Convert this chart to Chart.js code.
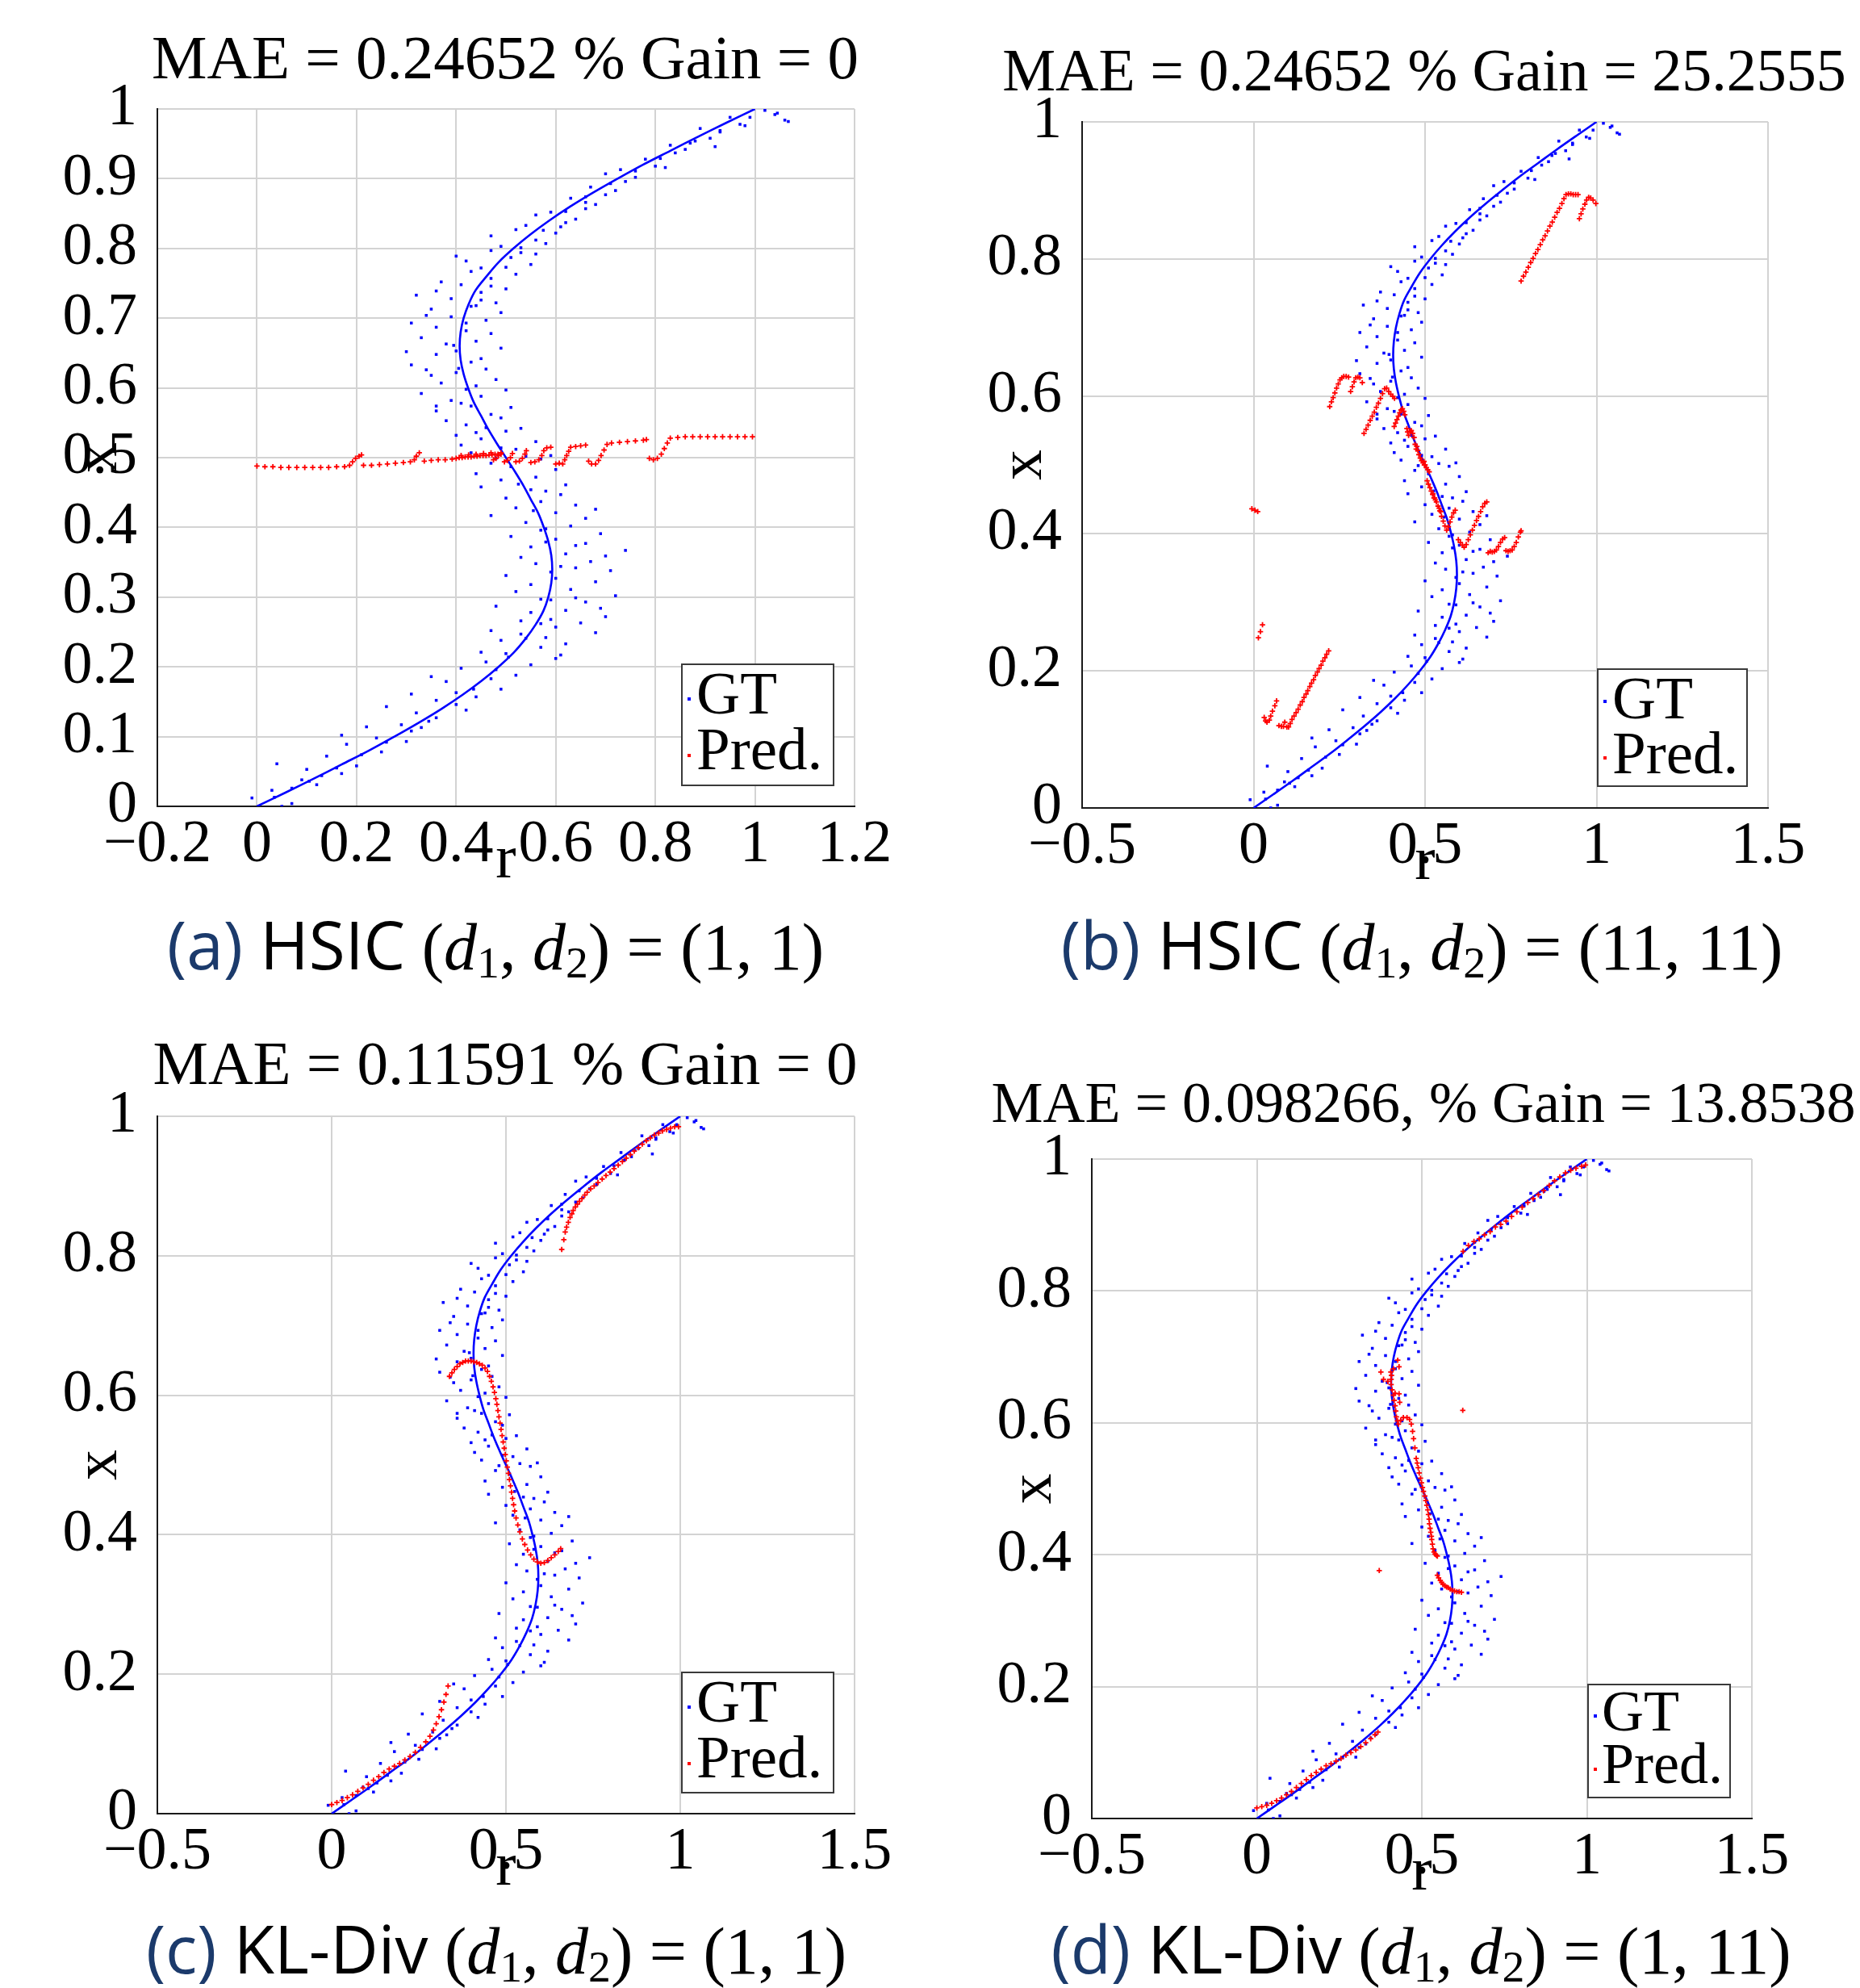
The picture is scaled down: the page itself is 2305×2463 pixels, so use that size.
<!DOCTYPE html>
<html lang="en">
<head>
  <meta charset="UTF-8">
  <title>HSIC / KL-Div predictions</title>
  <script src="https://cdn.jsdelivr.net/npm/chart.js"></script>
  <style>
    body { margin: 0; background: #fff; }
    #page { position: relative; width: 2305px; height: 2463px; overflow: hidden; font-family: 'Liberation Serif', serif; color: #000; }
    canvas { position: absolute; }
    .t { position: absolute; line-height: 1; white-space: nowrap; }
    .mid { transform: translateX(-50%); }
    .cap { font-size: 82px; }
    .sf { font-family: 'Open Sans', sans-serif; }
    .lbl { color: #1b3a6b; }
    .cap sub { font-size: 0.68em; vertical-align: -0.18em; line-height: 0; }
    .lg { position: absolute; border: 2px solid #3a3a3a; background: #fff; box-sizing: border-box; }
    .lg .t { font-size: 75px; }
    .mk { position: absolute; width: 4px; height: 4px; }
  </style>
</head>
<body>
<div id="page">
  <canvas id="pa" width="1152" height="1230" style="left:0;top:0"></canvas>
  <canvas id="pb" width="1153" height="1230" style="left:1152px;top:0"></canvas>
  <canvas id="pc" width="1152" height="1233" style="left:0;top:1230px"></canvas>
  <canvas id="pd" width="1153" height="1233" style="left:1152px;top:1230px"></canvas>

  <div class="t mid" style="left:626px;top:33px;font-size:77px">MAE = 0.24652 % Gain = 0</div>
  <div class="t mid" style="left:1765px;top:50px;font-size:74px">MAE = 0.24652 % Gain = 25.2555</div>
  <div class="t mid" style="left:626px;top:1279px;font-size:77px">MAE = 0.11591 % Gain = 0</div>
  <div class="t mid" style="left:1764px;top:1330px;font-size:72px">MAE = 0.098266, % Gain = 13.8538</div>

  <div class="lg" style="left:844px;top:822px;width:190px;height:152px">
    <div class="mk" style="left:6px;top:40px;background:#00f"></div>
    <div class="t" style="left:17px;top:-3px">GT</div>
    <div class="mk" style="left:6px;top:110px;background:#f00"></div>
    <div class="t" style="left:17px;top:66px">Pred.</div>
  </div>
  <div class="lg" style="left:1979px;top:828px;width:187px;height:147px">
    <div class="mk" style="left:6px;top:37px;background:#00f"></div>
    <div class="t" style="left:17px;top:-3px">GT</div>
    <div class="mk" style="left:6px;top:107px;background:#f00"></div>
    <div class="t" style="left:17px;top:65px">Pred.</div>
  </div>
  <div class="lg" style="left:844px;top:2071px;width:190px;height:151px">
    <div class="mk" style="left:6px;top:40px;background:#00f"></div>
    <div class="t" style="left:17px;top:-3px">GT</div>
    <div class="mk" style="left:6px;top:110px;background:#f00"></div>
    <div class="t" style="left:17px;top:66px">Pred.</div>
  </div>
  <div class="lg" style="left:1967px;top:2086px;width:178px;height:142px">
    <div class="mk" style="left:6px;top:36px;background:#00f"></div>
    <div class="t" style="left:16px;top:-4px;font-size:72px">GT</div>
    <div class="mk" style="left:6px;top:102px;background:#f00"></div>
    <div class="t" style="left:16px;top:61px;font-size:72px">Pred.</div>
  </div>

  <div class="t mid cap" style="left:614px;top:1128px"><span class="sf"><span class="lbl">(a)</span> HSIC</span> (<i>d</i><sub>1</sub>, <i>d</i><sub>2</sub>) = (1, 1)</div>
  <div class="t mid cap" style="left:1762px;top:1128px"><span class="sf"><span class="lbl">(b)</span> HSIC</span> (<i>d</i><sub>1</sub>, <i>d</i><sub>2</sub>) = (11, 11)</div>
  <div class="t mid cap" style="left:615px;top:2372px"><span class="sf"><span class="lbl">(c)</span> KL-Div</span> (<i>d</i><sub>1</sub>, <i>d</i><sub>2</sub>) = (1, 1)</div>
  <div class="t mid cap" style="left:1761px;top:2372px"><span class="sf"><span class="lbl">(d)</span> KL-Div</span> (<i>d</i><sub>1</sub>, <i>d</i><sub>2</sub>) = (1, 11)</div>
</div>

<script>
// ground truth curve (vertical value x, horizontal value r)
const gtCurveX = [0, 0.02, 0.04, 0.06, 0.08, 0.10, 0.12, 0.14, 0.16, 0.18, 0.20, 0.22, 0.24, 0.26, 0.28, 0.30,
  0.32, 0.34, 0.36, 0.38, 0.40, 0.42, 0.44, 0.46, 0.48, 0.50, 0.52, 0.54, 0.56, 0.58, 0.60, 0.62, 0.64, 0.66,
  0.68, 0.70, 0.72, 0.74, 0.76, 0.78, 0.80, 0.82, 0.84, 0.86, 0.88, 0.90, 0.92, 0.94, 0.96, 0.98, 1.00];
const gtCurveR = [0, 0.058, 0.115, 0.170, 0.225, 0.276, 0.325, 0.371, 0.413, 0.451, 0.485, 0.515, 0.539, 0.559, 0.575, 0.585,
  0.591, 0.593, 0.591, 0.585, 0.576, 0.565, 0.550, 0.535, 0.518, 0.500, 0.482, 0.465, 0.450, 0.435, 0.424, 0.415, 0.409, 0.407,
  0.409, 0.415, 0.425, 0.439, 0.461, 0.485, 0.515, 0.549, 0.587, 0.629, 0.675, 0.724, 0.775, 0.830, 0.885, 0.942, 1.000];

// noisy ground truth samples [r, x]
const gtCloud = [[-0.01,0.012],[0.07,0.004],[0.03,0.023],[0.12,0.031],[0.09,0.038],[0.17,0.047],[0.10,0.053],[0.20,0.058],
  [0.14,0.072],[0.25,0.078],[0.18,0.089],[0.30,0.093],[0.24,0.098],[0.33,0.113],[0.29,0.117],[0.36,0.127],[0.32,0.134],
  [0.42,0.138],[0.36,0.152],[0.44,0.157],[0.40,0.163],[0.49,0.168],[0.38,0.179],[0.47,0.183],[0.52,0.188],[0.41,0.198],
  [0.55,0.203],[0.46,0.207],[0.60,0.212],[0.50,0.219],[0.45,0.221],[0.57,0.228],[0.62,0.233],[0.49,0.238],[0.58,0.242],
  [0.68,0.249],[0.47,0.252],[0.60,0.257],[0.65,0.263],[0.53,0.266],[0.70,0.272],[0.55,0.278],[0.62,0.281],[0.48,0.287],
  [0.66,0.293],[0.57,0.297],[0.72,0.302],[0.52,0.308],[0.63,0.311],[0.55,0.318],[0.68,0.322],[0.60,0.327],[0.50,0.331],
  [0.71,0.338],[0.64,0.342],[0.56,0.348],[0.67,0.351],[0.53,0.357],[0.62,0.362],[0.74,0.367],[0.55,0.372],[0.66,0.377],
  [0.60,0.383],[0.51,0.387],[0.69,0.391],[0.58,0.398],[0.63,0.402],[0.54,0.407],[0.66,0.413],[0.47,0.417],[0.60,0.421],
  [0.52,0.428],[0.64,0.432],[0.57,0.437],[0.50,0.442],[0.61,0.447],[0.58,0.452],[0.45,0.458],[0.62,0.461],[0.49,0.468],
  [0.56,0.472],[0.44,0.477],[0.60,0.483],[0.51,0.487],[0.47,0.492],[0.57,0.498],[0.54,0.502],[0.43,0.507],[0.52,0.512],
  [0.41,0.518],[0.56,0.523],[0.45,0.527],[0.40,0.532],[0.50,0.538],[0.53,0.542],[0.42,0.547],[0.38,0.553],[0.49,0.557],
  [0.47,0.562],[0.36,0.567],[0.51,0.572],[0.41,0.578],[0.39,0.582],[0.45,0.588],[0.33,0.592],[0.50,0.597],[0.44,0.603],
  [0.37,0.607],[0.48,0.612],[0.35,0.618],[0.40,0.622],[0.46,0.627],[0.31,0.633],[0.43,0.637],[0.45,0.642],[0.36,0.648],
  [0.30,0.652],[0.49,0.657],[0.38,0.663],[0.44,0.667],[0.33,0.672],[0.47,0.678],[0.42,0.682],[0.36,0.687],[0.31,0.693],
  [0.46,0.697],[0.39,0.702],[0.49,0.708],[0.35,0.713],[0.43,0.717],[0.48,0.722],[0.39,0.728],[0.32,0.733],[0.45,0.737],
  [0.50,0.742],[0.41,0.748],[0.37,0.752],[0.47,0.757],[0.52,0.763],[0.43,0.767],[0.45,0.772],[0.55,0.777],[0.42,0.782],
  [0.51,0.787],[0.56,0.792],[0.47,0.797],[0.49,0.803],[0.58,0.807],[0.56,0.812],[0.47,0.818],[0.60,0.822],[0.52,0.827],
  [0.54,0.833],[0.62,0.837],[0.64,0.842],[0.56,0.848],[0.59,0.852],[0.66,0.857],[0.68,0.863],[0.63,0.872],[0.70,0.877],
  [0.72,0.883],[0.67,0.888],[0.76,0.902],[0.70,0.907],[0.73,0.913],[0.80,0.918],[0.78,0.928],[0.84,0.937],[0.86,0.942],
  [0.83,0.948],[0.91,0.958],[0.93,0.967],[0.89,0.972],[0.97,0.978],[1.04,0.992],[0.95,0.988],[1.06,0.984],[1.02,0.998],
  [1.045,0.994],[1.067,0.982],[0.61,0.217],[0.53,0.247],[0.59,0.268],[0.69,0.284],[0.64,0.299],[0.59,0.336],[0.70,0.359],
  [0.64,0.374],[0.57,0.396],[0.68,0.426],[0.55,0.454],[0.59,0.503],[0.48,0.499],[0.44,0.536],[0.36,0.574],[0.42,0.598],
  [0.34,0.626],[0.40,0.653],[0.34,0.704],[0.45,0.726],[0.36,0.739],[0.40,0.789],[0.53,0.801],[0.61,0.831],[0.66,0.866],
  [0.74,0.896],[0.82,0.916],[0.88,0.954],[0.17,0.102],[0.26,0.143],[0.22,0.114],[0.07,0.026],[0.04,0.061],[0.13,0.044],
  [0.31,0.161],[0.35,0.186],[0.98,0.976],[0.92,0.946],[0.05,0.0],
  [0.035,0.013],[0.105,0.036],[0.16,0.055],[0.21,0.074],[0.26,0.092],[0.31,0.108],[0.345,0.122],[0.40,0.146],[0.435,0.168],
  [0.48,0.196],[0.505,0.214],[0.54,0.241],[0.57,0.262],[0.59,0.296],[0.61,0.344],[0.58,0.379],[0.555,0.424],[0.525,0.462],
  [0.49,0.514],[0.46,0.543],[0.43,0.574],[0.405,0.628],[0.395,0.661],[0.42,0.693],[0.44,0.718],[0.47,0.746],[0.50,0.773],
  [0.53,0.794],[0.575,0.826],[0.62,0.853],[0.66,0.874],[0.71,0.893],[0.76,0.911],[0.81,0.929],[0.87,0.951],[0.93,0.969],
  [0.99,0.988]];

// predictions [r, x]
const predA = [[0.000,0.488],[0.016,0.487],[0.032,0.487],[0.048,0.486],[0.064,0.486],[0.080,0.486],[0.096,0.486],[0.112,0.486],
  [0.128,0.486],[0.144,0.486],[0.160,0.487],[0.176,0.487],[0.186,0.489],[0.192,0.494],[0.198,0.499],[0.205,0.502],[0.210,0.504],
  [0.214,0.489],[0.230,0.489],[0.246,0.490],[0.262,0.491],[0.278,0.492],[0.294,0.493],[0.308,0.494],[0.316,0.497],[0.320,0.502],
  [0.326,0.507],[0.336,0.495],[0.350,0.496],[0.364,0.497],[0.378,0.497],[0.392,0.498],[0.400,0.499],[0.406,0.500],[0.412,0.500],
  [0.418,0.501],[0.424,0.501],[0.430,0.501],[0.436,0.502],[0.442,0.502],[0.448,0.503],[0.454,0.503],[0.460,0.503],[0.466,0.504],
  [0.472,0.504],[0.478,0.505],[0.484,0.505],[0.490,0.505],[0.410,0.503],[0.425,0.504],[0.440,0.505],[0.455,0.506],[0.470,0.507],
  [0.475,0.497],[0.480,0.499],[0.485,0.503],[0.490,0.507],[0.497,0.494],[0.503,0.496],[0.509,0.500],[0.513,0.506],
  [0.520,0.494],[0.527,0.495],[0.533,0.499],[0.538,0.505],[0.541,0.510],[0.550,0.493],[0.558,0.494],[0.566,0.497],[0.572,0.503],
  [0.576,0.510],[0.582,0.514],[0.590,0.515],[0.600,0.491],[0.607,0.492],[0.614,0.491],[0.618,0.497],[0.622,0.503],[0.626,0.509],
  [0.630,0.515],[0.640,0.516],[0.650,0.517],[0.660,0.518],[0.666,0.495],[0.672,0.491],[0.680,0.491],[0.686,0.496],[0.691,0.503],
  [0.697,0.511],[0.703,0.519],[0.712,0.521],[0.728,0.522],[0.744,0.523],[0.760,0.524],[0.776,0.525],[0.782,0.526],[0.788,0.499],
  [0.796,0.497],[0.804,0.499],[0.812,0.505],[0.818,0.513],[0.824,0.521],[0.830,0.528],[0.845,0.529],[0.860,0.530],[0.875,0.530],
  [0.890,0.530],[0.905,0.530],[0.920,0.530],[0.935,0.530],[0.950,0.530],[0.965,0.530],[0.980,0.530],[0.995,0.530]];

const predB = [[0.780,0.768],[0.787,0.775],[0.794,0.781],[0.801,0.788],[0.808,0.795],[0.815,0.801],[0.822,0.808],[0.829,0.814],
  [0.836,0.821],[0.843,0.828],[0.850,0.834],[0.857,0.841],[0.864,0.848],[0.871,0.854],[0.878,0.861],[0.885,0.868],[0.892,0.874],
  [0.899,0.881],[0.905,0.888],[0.911,0.894],[0.918,0.895],[0.925,0.895],[0.932,0.894],[0.939,0.894],[0.946,0.894],
  [0.950,0.859],[0.955,0.866],[0.960,0.873],[0.966,0.880],[0.971,0.886],[0.977,0.890],[0.983,0.889],[0.990,0.886],[0.998,0.881],
  [0.222,0.585],[0.227,0.592],[0.232,0.598],[0.237,0.605],[0.242,0.612],[0.247,0.618],[0.252,0.624],[0.257,0.627],[0.263,0.629],
  [0.270,0.629],[0.277,0.628],[0.283,0.607],[0.288,0.614],[0.293,0.621],[0.298,0.627],[0.304,0.628],[0.310,0.627],[0.317,0.620],
  [0.322,0.546],[0.328,0.552],[0.334,0.558],[0.340,0.565],[0.346,0.571],[0.352,0.577],[0.358,0.584],[0.364,0.590],[0.370,0.597],
  [0.376,0.604],[0.382,0.611],[0.388,0.612],[0.394,0.607],[0.400,0.603],[0.406,0.600],[0.411,0.597],
  [0.410,0.556],[0.414,0.561],[0.418,0.566],[0.422,0.571],[0.426,0.576],[0.430,0.580],[0.434,0.582],[0.438,0.578],[0.441,0.573],
  [0.447,0.553],[0.449,0.548],[0.452,0.543],[0.456,0.549],[0.460,0.550],[0.464,0.546],[0.468,0.540],[0.471,0.530],[0.474,0.523],
  [0.476,0.527],[0.479,0.521],[0.482,0.515],[0.486,0.510],[0.490,0.506],[0.494,0.503],[0.498,0.500],
  [0.497,0.505],[0.500,0.500],[0.504,0.496],[0.508,0.493],[0.512,0.490],
  [0.506,0.477],[0.510,0.472],[0.514,0.467],[0.518,0.462],[0.522,0.457],[0.526,0.452],[0.530,0.449],
  [0.523,0.458],[0.528,0.452],[0.533,0.446],[0.538,0.440],[0.543,0.433],[0.548,0.425],[0.553,0.418],[0.558,0.411],[0.563,0.405],
  [0.568,0.410],[0.573,0.417],[0.578,0.424],[0.583,0.430],[0.588,0.434],[0.541,0.437],[0.546,0.432],
  [0.597,0.391],[0.603,0.387],[0.609,0.383],[0.614,0.380],[0.620,0.384],[0.626,0.391],[0.632,0.398],[0.638,0.405],[0.644,0.412],
  [0.650,0.419],[0.656,0.425],[0.662,0.432],[0.668,0.439],[0.674,0.444],[0.680,0.446],
  [0.684,0.372],[0.690,0.374],[0.696,0.373],[0.702,0.374],[0.708,0.376],[0.714,0.381],[0.720,0.387],[0.726,0.392],[0.732,0.394],
  [0.736,0.375],[0.742,0.374],[0.748,0.375],[0.754,0.376],[0.760,0.381],[0.766,0.387],[0.772,0.395],[0.778,0.402],[0.780,0.404],
  [-0.005,0.436],[0.004,0.434],[0.012,0.432],[0.014,0.248],[0.020,0.257],[0.026,0.267],
  [0.031,0.132],[0.035,0.127],[0.039,0.125],[0.046,0.128],[0.050,0.134],[0.055,0.141],[0.062,0.149],[0.067,0.156],
  [0.074,0.120],[0.081,0.119],[0.087,0.119],[0.091,0.125],[0.097,0.118],[0.102,0.118],
  [0.107,0.123],[0.112,0.129],[0.118,0.134],[0.124,0.139],[0.130,0.144],[0.136,0.150],[0.142,0.155],[0.147,0.161],[0.153,0.166],
  [0.158,0.171],[0.164,0.177],[0.169,0.182],[0.175,0.187],[0.180,0.193],[0.186,0.198],[0.191,0.203],[0.197,0.208],[0.202,0.214],
  [0.208,0.219],[0.213,0.224],[0.219,0.229]];

const predC = [[0.000,0.013],[0.015,0.016],[0.030,0.019],[0.045,0.023],[0.060,0.027],[0.075,0.032],[0.090,0.037],[0.105,0.042],
  [0.120,0.048],[0.135,0.053],[0.150,0.059],[0.165,0.064],[0.180,0.068],[0.195,0.072],[0.210,0.077],[0.225,0.082],[0.240,0.088],
  [0.255,0.095],[0.270,0.103],[0.282,0.111],[0.292,0.120],[0.300,0.129],[0.308,0.139],[0.315,0.149],[0.322,0.160],[0.328,0.171],
  [0.334,0.183],
  [0.338,0.627],[0.345,0.632],[0.352,0.637],[0.360,0.641],[0.368,0.645],[0.376,0.647],[0.384,0.649],[0.392,0.649],[0.400,0.649],
  [0.408,0.648],[0.416,0.647],[0.424,0.645],[0.432,0.643],[0.440,0.639],[0.447,0.634],[0.453,0.627],[0.458,0.620],[0.463,0.612],
  [0.467,0.604],[0.471,0.595],[0.474,0.587],[0.477,0.578],[0.480,0.569],[0.483,0.560],[0.486,0.551],[0.489,0.542],[0.492,0.533],
  [0.495,0.524],[0.498,0.515],[0.501,0.506],[0.504,0.497],[0.507,0.488],[0.510,0.479],[0.513,0.470],[0.516,0.461],[0.519,0.452],
  [0.522,0.443],[0.525,0.434],[0.529,0.424],[0.534,0.414],[0.540,0.404],[0.547,0.394],[0.554,0.386],[0.562,0.378],[0.571,0.371],
  [0.580,0.365],[0.590,0.361],[0.600,0.359],[0.610,0.360],[0.620,0.363],[0.630,0.367],[0.640,0.371],[0.650,0.376],[0.657,0.380],
  [0.660,0.809],[0.666,0.823],[0.670,0.834],[0.674,0.841],[0.679,0.848],[0.684,0.855],[0.689,0.860],[0.693,0.865],[0.699,0.870],
  [0.705,0.874],[0.711,0.878],[0.718,0.882],[0.726,0.887],[0.733,0.891],[0.743,0.896],[0.753,0.900],[0.764,0.905],[0.776,0.910],
  [0.787,0.915],[0.799,0.920],[0.810,0.925],[0.822,0.930],[0.834,0.935],[0.845,0.940],[0.857,0.945],[0.868,0.950],[0.880,0.955],
  [0.891,0.960],[0.903,0.965],[0.914,0.969],[0.926,0.973],[0.938,0.976],[0.949,0.979],[0.961,0.981],[0.972,0.983],[0.984,0.985],
  [0.995,0.985]];

const predD = [[0.000,0.016],[0.015,0.018],[0.030,0.020],[0.045,0.023],[0.060,0.027],[0.075,0.031],[0.090,0.036],[0.105,0.041],
  [0.120,0.047],[0.135,0.053],[0.150,0.059],[0.165,0.065],[0.180,0.070],[0.195,0.075],[0.210,0.080],[0.225,0.083],[0.240,0.087],
  [0.255,0.091],[0.270,0.096],[0.285,0.100],[0.300,0.104],[0.315,0.109],[0.330,0.115],[0.345,0.121],[0.358,0.127],[0.367,0.131],
  [0.376,0.677],[0.384,0.666],[0.397,0.663],[0.408,0.672],[0.414,0.682],[0.427,0.695],[0.431,0.685],[0.406,0.677],
  [0.407,0.666],[0.407,0.658],[0.410,0.650],[0.414,0.642],[0.416,0.634],[0.419,0.626],[0.421,0.618],[0.423,0.609],[0.426,0.603],
  [0.429,0.598],[0.419,0.645],[0.431,0.644],[0.433,0.631],
  [0.436,0.604],[0.444,0.608],[0.455,0.608],[0.463,0.605],[0.468,0.598],[0.472,0.587],[0.475,0.576],[0.479,0.562],[0.483,0.546],
  [0.486,0.539],[0.489,0.532],[0.492,0.524],[0.496,0.516],[0.499,0.509],[0.502,0.502],[0.505,0.496],[0.509,0.489],[0.512,0.482],
  [0.515,0.475],[0.518,0.468],[0.520,0.461],[0.522,0.454],[0.523,0.447],[0.525,0.440],[0.527,0.434],[0.529,0.428],[0.530,0.423],
  [0.532,0.416],[0.534,0.409],[0.537,0.404],[0.540,0.401],[0.544,0.399],[0.547,0.398],
  [0.547,0.369],[0.551,0.365],[0.556,0.361],[0.560,0.358],[0.564,0.355],[0.570,0.353],[0.575,0.351],[0.580,0.350],[0.586,0.348],
  [0.592,0.346],[0.599,0.345],[0.606,0.344],[0.613,0.344],[0.620,0.343],
  [0.624,0.619],[0.371,0.376],
  [0.625,0.860],[0.641,0.869],[0.658,0.875],[0.674,0.879],[0.690,0.885],[0.707,0.890],[0.723,0.897],[0.739,0.901],[0.755,0.906],
  [0.772,0.913],[0.788,0.920],[0.804,0.927],[0.821,0.934],[0.837,0.940],[0.853,0.946],[0.869,0.952],[0.886,0.960],[0.902,0.967],
  [0.918,0.973],[0.935,0.979],[0.951,0.983],[0.967,0.986],[0.984,0.989],[0.996,0.991]];

// tick values and labels
const xTicksA = [-0.2, 0, 0.2, 0.4, 0.6, 0.8, 1, 1.2];
const xLabelsA = ['\u22120.2', '0', '0.2', '0.4', '0.6', '0.8', '1', '1.2'];
const xTicksB = [-0.5, 0, 0.5, 1, 1.5];
const xLabelsB = ['\u22120.5', '0', '0.5', '1', '1.5'];
const yTicksA = [0, 0.1, 0.2, 0.3, 0.4, 0.5, 0.6, 0.7, 0.8, 0.9, 1];
const yLabelsA = ['0', '0.1', '0.2', '0.3', '0.4', '0.5', '0.6', '0.7', '0.8', '0.9', '1'];
const yTicksB = [0, 0.2, 0.4, 0.6, 0.8, 1];
const yLabelsB = ['0', '0.2', '0.4', '0.6', '0.8', '1'];

const YW = 150, XH = 120;
const tickFont = { family: 'Liberation Serif', size: 74 };

// axis names drawn over the tick column like the original
const axisNames = {
  id: 'axisNames',
  afterDraw(chart) {
    const { ctx, chartArea: a } = chart;
    ctx.save();
    ctx.fillStyle = '#000';
    ctx.font = '76px "Liberation Serif"';
    ctx.textAlign = 'center';
    ctx.textBaseline = 'alphabetic';
    ctx.fillText('r', (a.left + a.right) / 2, a.bottom + 88);
    ctx.translate(a.left - 71, (a.top + a.bottom) / 2);
    ctx.rotate(-Math.PI / 2);
    ctx.textBaseline = 'middle';
    ctx.fillText('x', 0, 0);
    ctx.restore();
  }
};

function pts(pairs) {
  return pairs.map(p => ({ x: p[0], y: p[1] }));
}

function makePanel(p) {
  const cv = document.getElementById(p.id);
  const [cl, ct] = p.canvasAt;
  const [L, T, R, B] = p.area;
  new Chart(cv, {
    type: 'scatter',
    data: {
      datasets: [
        { data: pts(p.pred), pointStyle: 'cross', pointRadius: 3.3, borderColor: '#ff0000', borderWidth: 1.8, order: 0 },
        { data: gtCurveR.map((r, i) => ({ x: r, y: gtCurveX[i] })), showLine: true, pointRadius: 0,
          borderColor: '#0000ff', borderWidth: 2.6, tension: 0.35, order: 1 },
        { data: pts(gtCloud), pointStyle: 'rect', pointRadius: 2.5, backgroundColor: '#0000ff', borderWidth: 0, order: 2 }
      ]
    },
    options: {
      responsive: false,
      animation: false,
      events: [],
      layout: { padding: { left: L - cl - YW, top: T - ct, right: cl + cv.width - R, bottom: ct + cv.height - B - XH } },
      plugins: { legend: { display: false }, tooltip: { enabled: false } },
      scales: {
        x: {
          type: 'linear', min: p.xTicks[0], max: p.xTicks[p.xTicks.length - 1],
          afterBuildTicks: s => { s.ticks = p.xTicks.map(v => ({ value: v })); },
          afterFit: s => { s.height = XH; },
          ticks: { callback: (v, i) => p.xLabels[i], font: tickFont, color: '#000', padding: 4, maxRotation: 0, autoSkip: false },
          grid: { color: '#d3d3d3', lineWidth: 2, drawTicks: false },
          border: { color: '#1a1a1a', width: 2 }
        },
        y: {
          type: 'linear', min: 0, max: 1,
          afterBuildTicks: s => { s.ticks = p.yTicks.map(v => ({ value: v })); },
          afterFit: s => { s.width = YW; },
          ticks: { callback: (v, i) => p.yLabels[i], font: tickFont, color: '#000', padding: 25, autoSkip: false },
          grid: { color: '#d3d3d3', lineWidth: 2, drawTicks: false },
          border: { color: '#1a1a1a', width: 2 }
        }
      }
    },
    plugins: [axisNames]
  });
}

makePanel({ id: 'pa', canvasAt: [0, 0], area: [195, 135, 1059, 999], xTicks: xTicksA, xLabels: xLabelsA, yTicks: yTicksA, yLabels: yLabelsA, pred: predA });
makePanel({ id: 'pb', canvasAt: [1152, 0], area: [1341, 151, 2191, 1001], xTicks: xTicksB, xLabels: xLabelsB, yTicks: yTicksB, yLabels: yLabelsB, pred: predB });
makePanel({ id: 'pc', canvasAt: [0, 1230], area: [195, 1383, 1059, 2247], xTicks: xTicksB, xLabels: xLabelsB, yTicks: yTicksB, yLabels: yLabelsB, pred: predC });
makePanel({ id: 'pd', canvasAt: [1152, 1230], area: [1353, 1436, 2171, 2253], xTicks: xTicksB, xLabels: xLabelsB, yTicks: yTicksB, yLabels: yLabelsB, pred: predD });
</script>
</body>
</html>
